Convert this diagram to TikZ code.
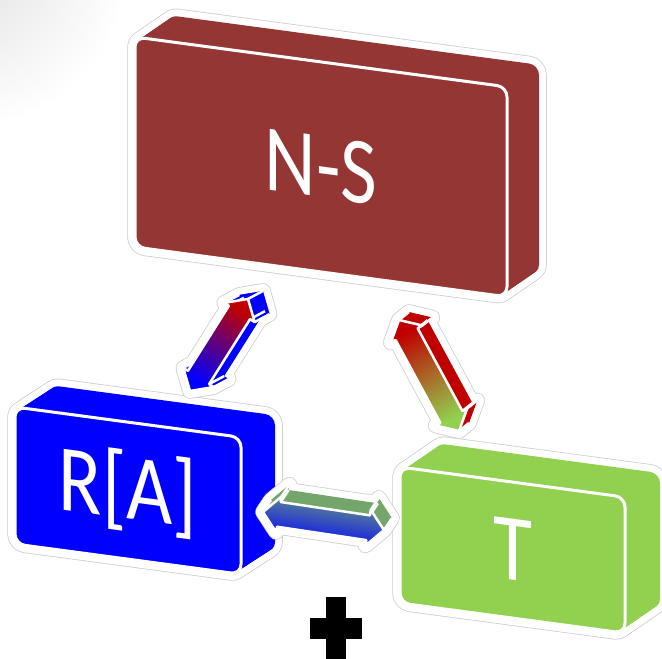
\documentclass[tikz,border=0pt]{standalone}
\usepackage{fontspec}
\setmainfont{Carlito}
\usetikzlibrary{calc}

\definecolor{nsred}{HTML}{943634}
\definecolor{rablue}{HTML}{0000FF}
\definecolor{tgreen}{HTML}{92D050}
\definecolor{arrowred}{HTML}{C00000}
\definecolor{sage}{HTML}{6A9C7E}
\definecolor{sageside}{HTML}{74A66C}

\tikzset{
  halo/.style={draw=black!20, line width=15.5pt, line join=round},
  rim/.style={draw=white, line width=14pt, line join=round},
  seam/.style={draw=white, line width=3pt, line join=round},
  boxlabel/.style={text=white, font=\fontsize{95}{95}\selectfont,
    inner sep=0pt, transform shape, xscale=0.84},
}

% arrow proportions: head length, half head width, half shaft width
\def\arrhead{16}
\def\arrhalf{18}
\def\arrshaft{12.5}

% extruded slab: \slab{x}{y}{width}{height}{dx}{dy}{colour}{name}{label}
\newcommand\slab[9]{%
  \begin{scope}[rounded corners=10pt]
    \foreach \t in {0,0.05,...,1.001}{
      \path[halo, shift={(\t*#5,\t*(#6))}, shift={(#1,#2)}, yslant=-0.134]
        (0,0) -- (#3,0) -- (#3,#4) -- (0,#4) -- cycle;}
    \foreach \t in {0,0.05,...,1.001}{
      \path[rim, shift={(\t*#5,\t*(#6))}, shift={(#1,#2)}, yslant=-0.134]
        (0,0) -- (#3,0) -- (#3,#4) -- (0,#4) -- cycle;}
    \foreach \t in {0,0.05,...,1.001}{
      \path[fill=#7, shift={(\t*#5,\t*(#6))}, shift={(#1,#2)}, yslant=-0.134]
        (0,0) -- (#3,0) -- (#3,#4) -- (0,#4) -- cycle;}
    \path[fill=#7, seam, shift={(#1,#2)}, yslant=-0.134]
      (0,0) -- (#3,0) -- (#3,#4) -- (0,#4) -- cycle;
  \end{scope}
  \begin{scope}[shift={(#1,#2)}, yslant=-0.134]
    \node[boxlabel] (#8) at (#3/2,#4/2) {#9};
  \end{scope}
}

% one copy of the double arrow outline, drawn with the given options
\newcommand\arrowcopy[1]{%
  \path[#1] (0,0) -- (\arrhead,\arrhalf) -- (\arrhead,\arrshaft)
    -- (\len-\arrhead,\arrshaft) -- (\len-\arrhead,\arrhalf) -- (\len,0)
    -- (\len-\arrhead,-\arrhalf) -- (\len-\arrhead,-\arrshaft)
    -- (\arrhead,-\arrshaft) -- (\arrhead,-\arrhalf) -- cycle;}

% extruded double arrow:
% \duplex{tail x,y}{angle}{length}{dx}{dy}{side colour}{front shading}{name}
\newcommand\duplex[8]{%
  \def\len{#3}%
  \foreach \t in {0,0.1,...,1.001}{
    \arrowcopy{halo, shift={(\t*#4,\t*(#5))}, shift={(#1)}, rotate=#2}}
  \foreach \t in {0,0.1,...,1.001}{
    \arrowcopy{rim, shift={(\t*#4,\t*(#5))}, shift={(#1)}, rotate=#2}}
  \foreach \t in {0,0.05,...,1.001}{
    \arrowcopy{fill=#6, shift={(\t*#4,\t*(#5))}, shift={(#1)}, rotate=#2}}
  \begin{scope}[shift={(#1)}, rotate=#2]
    \coordinate (#8-tail) at (0,0);
    \coordinate (#8-tip) at (\len,0);
    \coordinate (#8-1) at (0,0);
    \coordinate (#8-2) at (\arrhead,\arrhalf);
    \coordinate (#8-3) at (\arrhead,\arrshaft);
    \coordinate (#8-4) at (\len-\arrhead,\arrshaft);
    \coordinate (#8-5) at (\len-\arrhead,\arrhalf);
    \coordinate (#8-6) at (\len,0);
    \coordinate (#8-7) at (\len-\arrhead,-\arrhalf);
    \coordinate (#8-8) at (\len-\arrhead,-\arrshaft);
    \coordinate (#8-9) at (\arrhead,-\arrshaft);
    \coordinate (#8-10) at (\arrhead,-\arrhalf);
  \end{scope}
  \foreach \i in {1,...,10}{
    \draw[seam, line width=2.5pt] (#8-\i) -- ($(#8-\i)+(#4,#5)$);}
  \arrowcopy{#7, seam, line width=2.5pt, shift={(#1)}, rotate=#2}
}

\begin{document}
\begin{tikzpicture}[x=1pt, y=-1pt]
  \useasboundingbox (0,0) rectangle (662,659);
  \fill[white] (0,0) rectangle (662,659);
  \begin{scope}
    \clip (0,0) rectangle (662,659);
    \shade[inner color=black!12, outer color=white] (-40,-40) circle (170);
  \end{scope}

  % the three blocks
  \slab{135}{37}{372}{210}{32}{-22}{nsred}{ns}{N-S}
  \slab{15}{407}{226}{137}{34}{-22}{rablue}{ra}{R[A]}
  \slab{400}{467}{225}{136}{35}{-24}{tgreen}{t}{T}

  % two-way links between the blocks
  \duplex{190,391}{57.8}{108.8}{15}{-8}{rablue}
    {bottom color=rablue, top color=arrowred, shading angle=-32.2}{rans}
  \duplex{399,320}{-61.6}{126.2}{10}{-8}{arrowred}
    {top color=arrowred, bottom color=tgreen, shading angle=28.4}{nst}
  \duplex{263,512}{-8.5}{122.3}{8}{-12}{sageside}
    {top color=sage, bottom color=rablue, shading angle=-8.5}{rat}

  % plus sign below
  \fill[black] (326,597) rectangle (346,662);
  \fill[black] (310,618) rectangle (362,639);
\end{tikzpicture}
\end{document}
